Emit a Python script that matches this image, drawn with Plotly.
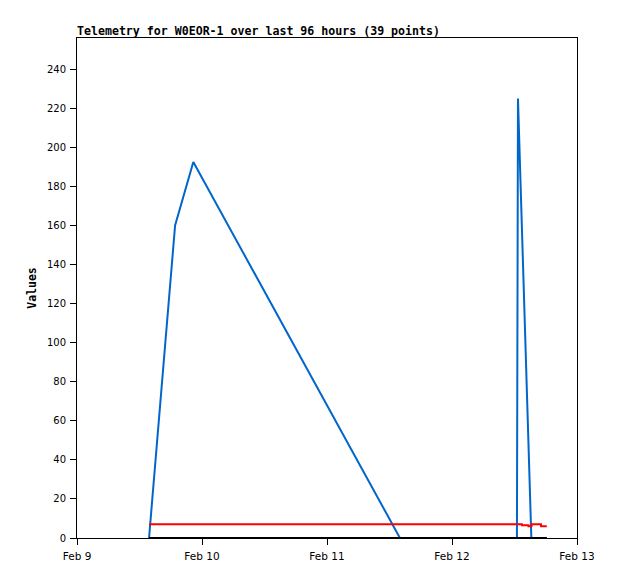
import plotly.graph_objects as go

# ---- data ----
blue_times = ["2024-02-09 13:50", "2024-02-09 18:50", "2024-02-09 22:20",
              "2024-02-11 14:00", "2024-02-12 12:28", "2024-02-12 12:30",
              "2024-02-12 12:40", "2024-02-12 15:14", "2024-02-12 18:12"]
blue_vals = [0, 160, 192.5, 0, 0, 112, 225, 0, 0]

red_times = ["2024-02-09 13:50", "2024-02-12 13:25", "2024-02-12 13:26",
             "2024-02-12 14:40", "2024-02-12 14:41", "2024-02-12 15:16",
             "2024-02-12 15:17", "2024-02-12 17:05", "2024-02-12 17:06",
             "2024-02-12 18:12"]
red_vals = [7, 7, 6.5, 6.5, 6, 6, 7, 7, 6, 6]

black_times = ["2024-02-09 13:50", "2024-02-12 18:12"]
black_vals = [0, 0]

x_tickvals = ["2024-02-09", "2024-02-10", "2024-02-11", "2024-02-12", "2024-02-13"]
x_ticktext = ["Feb 9", "Feb 10", "Feb 11", "Feb 12", "Feb 13"]
y_tickvals = list(range(0, 241, 20))

fig = go.Figure()
fig.add_trace(go.Scatter(x=blue_times, y=blue_vals, mode="lines",
                         line=dict(color="#0066CC", width=2), showlegend=False))
fig.add_trace(go.Scatter(x=red_times, y=red_vals, mode="lines",
                         line=dict(color="#FF0000", width=2), showlegend=False))
fig.add_trace(go.Scatter(x=black_times, y=black_vals, mode="lines",
                         line=dict(color="#000000", width=2), showlegend=False))

# page body has an 8px default margin, so the figure is 8px smaller and offset
fig.update_layout(
    width=610, height=571,
    margin=dict(l=69, r=41, t=30, b=41, autoexpand=False),
    paper_bgcolor="white", plot_bgcolor="white",
    title=dict(text="<b>Telemetry for W0EOR-1 over last 96 hours (39 points)</b>",
               x=0, xanchor="left", xref="paper",
               y=1 - 23/571, yanchor="middle",
               font=dict(family="DejaVu Sans Mono", size=11.6, color="black")),
    font=dict(family="DejaVu Sans", size=10, color="black"),
)
fig.update_xaxes(range=["2024-02-09", "2024-02-13"], tickvals=x_tickvals, ticktext=x_ticktext,
                 showgrid=False, zeroline=False, showline=True, linecolor="black", linewidth=1,
                 mirror=True, ticks="outside", ticklen=6, tickcolor="black",
                 ticklabelstandoff=2,
                 tickfont=dict(family="DejaVu Sans", size=10.5, color="black"))
fig.update_yaxes(range=[0, 256], tickvals=y_tickvals,
                 showgrid=False, zeroline=False, showline=True, linecolor="black", linewidth=1,
                 mirror=True, ticks="outside", ticklen=6, tickcolor="black",
                 ticklabelstandoff=2,
                 tickfont=dict(family="DejaVu Sans", size=10, color="black"),
                 title=dict(text="<b>Values</b>", standoff=7,
                            font=dict(family="DejaVu Sans Mono", size=11.5, color="black")))

fig.write_html("out.html")
